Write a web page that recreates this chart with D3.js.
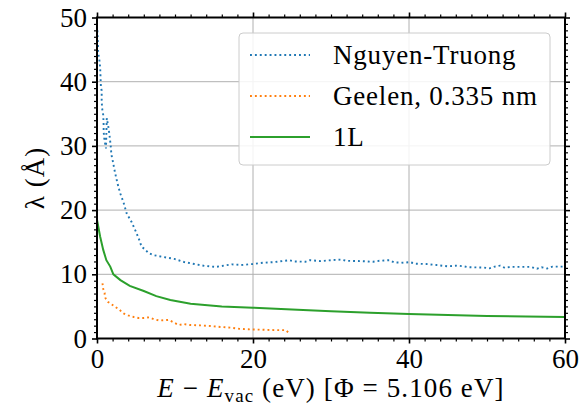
<!DOCTYPE html>
<html>
<head>
<meta charset="utf-8">
<script src="https://cdn.jsdelivr.net/npm/d3@7"></script>
</head>
<body style="margin:0">
<script>
// Nguyen-Truong (dotted blue)
const nguyenX = [0.05, 0.1, 0.15, 0.3, 0.4, 0.45, 0.5, 0.6, 0.6, 0.65, 0.8, 0.85, 0.85, 0.95, 1.1, 1.15,
    1.25, 1.45, 1.6, 1.75, 1.85, 2.05, 2.3, 2.6, 2.95, 3.4, 3.8, 4.45, 5.0, 5.5, 5.7, 6.15, 6.6, 7.2,
    8.5, 9.9, 11.2, 12.5, 13.85, 15.25, 16.5, 17.3, 18.5, 19.95, 21.3, 22.7, 24.0, 24.65, 25.3, 26.7,
    27.3, 28.7, 30.0, 31.3, 32.0, 34.0, 35.4, 36.2, 37.5, 38.1, 39.4, 40.1, 40.85, 42.2, 43.5, 44.9,
    46.2, 47.0, 47.6, 49.6, 50.3, 51.0, 51.7, 52.3, 53.0, 55.6, 56.4, 57.0, 57.7, 58.4, 60];
const nguyenY = [48, 46.5, 44.5, 43.4, 42.3, 40.8, 39.2, 38.6, 37.2, 35.9, 34.8, 33.3, 32.2, 31.0, 30.0, 29.6,
    34.3, 33.0, 31.7, 30.1, 28.6, 27.5, 25.9, 24.3, 22.7, 21.2, 19.5, 18.1, 16.6, 15.1, 14.3, 13.9, 13.3, 13.0,
    12.7, 12.4, 11.9, 11.6, 11.3, 11.15, 11.4, 11.55, 11.45, 11.6, 11.8, 11.9, 12.1, 12.2, 12.0, 11.95,
    12.2, 12.05, 12.2, 12.3, 12.1, 12.05, 11.95, 12.1, 12.2, 11.85, 11.8, 11.9, 11.65, 11.6, 11.45, 11.25,
    11.35, 11.25, 11.1, 11.05, 10.93, 11.2, 11.35, 11.0, 11.15, 11.15, 10.87, 11.1, 10.9, 11.2, 11.2];

// Geelen, 0.335 nm (dotted orange)
const geelenX = [0.7, 0.8, 1.0, 0.95, 1.1, 1.4, 1.9, 2.9, 3.4, 4.0, 4.7, 5.3, 6.0, 6.7, 7.3, 8.0, 8.6, 9.2,
    9.9, 10.5, 11.1, 11.9, 13.2, 14.5, 15.8, 17.1, 18.3, 19.6, 20.9, 22.2, 23.5, 24.2, 24.5];
const geelenY = [8.6, 7.7, 7.1, 6.8, 6.25, 5.7, 5.3, 4.45, 3.9, 3.6, 3.35, 3.2, 3.2, 3.3, 3.0, 2.8, 2.85, 2.9,
    2.45, 2.1, 2.25, 2.1, 2.05, 1.95, 1.8, 1.7, 1.5, 1.42, 1.38, 1.32, 1.3, 1.3, 0.97];

// 1L (solid green)
const oneLX = [0, 0.4, 0.8, 1.2, 1.7, 2.1, 3, 4.2, 6, 7.6, 9.4, 12, 16, 20, 25, 30, 35, 40, 45, 50, 55, 60];
const oneLY = [18.5, 15.9, 13.8, 12.2, 11.2, 10.0, 9.1, 8.2, 7.4, 6.6, 6.0, 5.4, 5.0, 4.8, 4.5, 4.25, 4.0, 3.8,
    3.65, 3.5, 3.42, 3.35];

const xTicks = [0, 20, 40, 60];
const yTicks = [0, 10, 20, 30, 40, 50];
const legendLabels = ["Nguyen-Truong", "Geelen, 0.335 nm", "1L"];

const WIDTH = 586, HEIGHT = 409;
const MARGINS = {left: 97, top: 17.5, right: 21, bottom: 70.5};
const W = WIDTH - MARGINS.left - MARGINS.right;
const H = HEIGHT - MARGINS.top - MARGINS.bottom;
const SERIF = "'Liberation Serif', 'Times New Roman', serif";
const FONT_SIZE = 27;

const svg = d3.select("body").append("svg")
    .attr("width", WIDTH)
    .attr("height", HEIGHT)
    .style("display", "block");
const g = svg.append("g")
    .attr("transform", "translate(" + MARGINS.left + "," + MARGINS.top + ")");

const x = d3.scaleLinear().domain([0, 60]).range([0, W]);
const y = d3.scaleLinear().domain([0, 50]).range([H, 0]);

// grid
g.append("g").selectAll("line").data(xTicks.slice(1, -1)).enter().append("line")
    .attr("x1", d => x(d)).attr("x2", d => x(d))
    .attr("y1", 0).attr("y2", H)
    .attr("stroke", "#b0b0b0").attr("stroke-width", 1);
g.append("g").selectAll("line").data(yTicks.slice(1, -1)).enter().append("line")
    .attr("x1", 0).attr("x2", W)
    .attr("y1", d => y(d)).attr("y2", d => y(d))
    .attr("stroke", "#b0b0b0").attr("stroke-width", 1);

// ticks (all outward, on four sides)
const xMinor = d3.range(0, 61, 2).filter(v => !xTicks.includes(v));
const yMinor = d3.range(0, 51, 1).filter(v => !yTicks.includes(v));

function tickAxis(axis, values, size, width, label) {
    return function (sel) {
        sel.call(axis.tickValues(values).tickSize(size).tickPadding(5)
            .tickFormat(label ? d3.format("d") : ""));
        sel.select(".domain").remove();
        sel.selectAll(".tick line").attr("stroke", "#000").attr("stroke-width", width);
        sel.selectAll(".tick text")
            .attr("fill", "#000")
            .style("font-family", SERIF)
            .style("font-size", FONT_SIZE + "px");
    };
}

g.append("g").attr("transform", "translate(0," + H + ")").call(tickAxis(d3.axisBottom(x), xTicks, 5, 1.6, true));
g.append("g").attr("transform", "translate(0," + H + ")").call(tickAxis(d3.axisBottom(x), xMinor, 3, 1.2, false));
g.append("g").call(tickAxis(d3.axisTop(x), xTicks, 5, 1.6, false));
g.append("g").call(tickAxis(d3.axisTop(x), xMinor, 3, 1.2, false));
g.append("g").call(tickAxis(d3.axisLeft(y), yTicks, 5, 1.6, true));
g.append("g").call(tickAxis(d3.axisLeft(y), yMinor, 3, 1.2, false));
g.append("g").attr("transform", "translate(" + W + ",0)").call(tickAxis(d3.axisRight(y), yTicks, 5, 1.6, false));
g.append("g").attr("transform", "translate(" + W + ",0)").call(tickAxis(d3.axisRight(y), yMinor, 3, 1.2, false));

// data lines
g.append("clipPath").attr("id", "plotclip")
    .append("rect").attr("width", W).attr("height", H);
const plot = g.append("g").attr("clip-path", "url(#plotclip)");

const line = d3.line().x(d => x(d[0])).y(d => y(d[1]));
const series = [
    {pts: d3.zip(nguyenX, nguyenY), color: "#1f77b4", width: 1.9, dash: "1.9,3"},
    {pts: d3.zip(geelenX, geelenY), color: "#ff7f0e", width: 1.9, dash: "1.9,3"},
    {pts: d3.zip(oneLX, oneLY), color: "#2ca02c", width: 2, dash: null}
];
series.forEach(s => {
    plot.append("path")
        .datum(s.pts)
        .attr("fill", "none")
        .attr("stroke", s.color)
        .attr("stroke-width", s.width)
        .attr("stroke-dasharray", s.dash)
        .attr("d", line);
});

// spines
g.append("rect")
    .attr("width", W).attr("height", H)
    .attr("fill", "none").attr("stroke", "#000").attr("stroke-width", 2);

// legend
const legend = svg.append("g").attr("transform", "translate(239,33)");
legend.append("rect")
    .attr("width", 311).attr("height", 132)
    .attr("rx", 4).attr("ry", 4)
    .attr("fill", "#fff").attr("fill-opacity", 0.85)
    .attr("stroke", "#cccccc").attr("stroke-width", 1);
series.forEach((s, i) => {
    const ry = 22 + i * 41;
    legend.append("line")
        .attr("x1", 11).attr("x2", 71)
        .attr("y1", ry).attr("y2", ry)
        .attr("stroke", s.color)
        .attr("stroke-width", s.width)
        .attr("stroke-dasharray", s.dash);
    legend.append("text")
        .attr("x", 94).attr("y", ry + 9)
        .style("font-family", SERIF)
        .style("font-size", FONT_SIZE + "px")
        .style("letter-spacing", "0.8px")
        .text(legendLabels[i]);
});

// axis labels
const xl = svg.append("text")
    .attr("x", MARGINS.left + W / 2)
    .attr("y", 397)
    .attr("text-anchor", "middle")
    .style("font-family", SERIF)
    .style("font-size", FONT_SIZE + "px")
    .style("letter-spacing", "1.1px");
xl.append("tspan").style("font-style", "italic").text("E");
xl.append("tspan").text(" \u2212 ");
xl.append("tspan").style("font-style", "italic").text("E");
xl.append("tspan").attr("dy", 5).style("font-size", "19px").text("vac");
xl.append("tspan").attr("dy", -5).text(" (eV) [\u03A6 = 5.106 eV]");

svg.append("text")
    .attr("transform", "translate(44," + (MARGINS.top + H / 2) + ") rotate(-90)")
    .attr("text-anchor", "middle")
    .style("font-family", SERIF)
    .style("font-size", FONT_SIZE + "px")
    .style("letter-spacing", "1px")
    .text("\u03BB (\u00C5)");
</script>
</body>
</html>
